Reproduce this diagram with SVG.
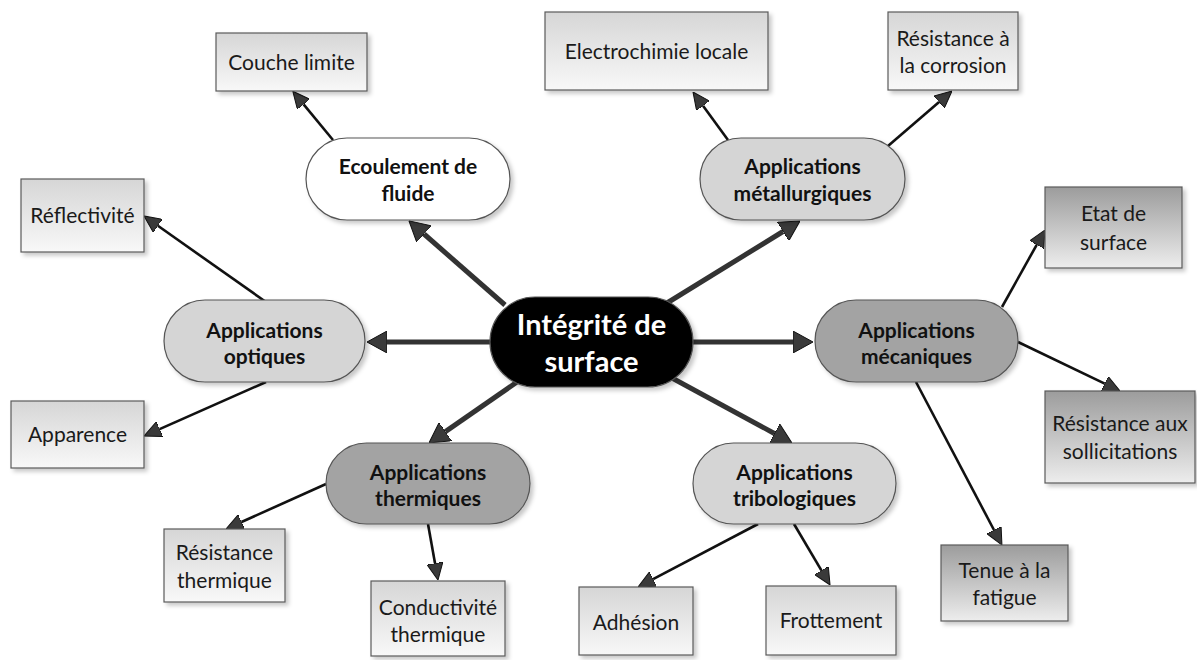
<svg xmlns="http://www.w3.org/2000/svg" width="1197" height="660" viewBox="0 0 1197 660">
<defs>
<style>
.box{stroke:#5a5a5a;stroke-width:1.2;filter:url(#sh)}
.lb{fill:url(#gl)}
.db{fill:url(#gd)}
.pill{stroke:#555;stroke-width:1.2;filter:url(#sh)}
.t{font-family:Lato,"Liberation Sans",sans-serif;font-size:21px;fill:#1a1a1a;text-anchor:middle}
.b{font-family:Lato,"Liberation Sans",sans-serif;font-size:21px;font-weight:bold;fill:#111;text-anchor:middle}
.c{font-family:Lato,"Liberation Sans",sans-serif;font-size:29px;font-weight:bold;fill:#fff;text-anchor:middle}
.thick{stroke:#333;stroke-width:5;fill:none;marker-end:url(#ah)}
.thin{stroke:#111;stroke-width:2.6;fill:none;marker-end:url(#at)}
</style>
<linearGradient id="gl" x1="0" y1="0" x2="0" y2="1"><stop offset="0" stop-color="#d6d6d6"/><stop offset="1" stop-color="#f8f8f8"/></linearGradient>
<linearGradient id="gd" x1="0" y1="0" x2="0" y2="1"><stop offset="0" stop-color="#9c9c9c"/><stop offset="1" stop-color="#ededed"/></linearGradient>
<filter id="sh" x="-10%" y="-10%" width="130%" height="140%"><feDropShadow dx="3" dy="3" stdDeviation="2" flood-color="#000" flood-opacity="0.22"/></filter>
<marker id="ah" viewBox="0 0 20 22" markerWidth="20" markerHeight="22" refX="0" refY="11" orient="auto" markerUnits="userSpaceOnUse"><path d="M0,0 L20,11 L0,22 z" fill="#3a3a3a" stroke="#111" stroke-width="1"/></marker>
<marker id="at" viewBox="0 0 17 16" markerWidth="17" markerHeight="16" refX="0" refY="8" orient="auto" markerUnits="userSpaceOnUse"><path d="M0,0 L17,8 L0,16 z" fill="#3a3a3a" stroke="#111" stroke-width="1"/></marker>
</defs>
<rect width="1197" height="660" fill="#fff"/>
<g id="connectors">
<line class="thick" x1="505" y1="305" x2="424" y2="234"/>
<line class="thick" x1="667" y1="303" x2="783" y2="231.5"/>
<line class="thick" x1="490" y1="342" x2="387" y2="342"/>
<line class="thick" x1="691" y1="342" x2="793" y2="342"/>
<line class="thick" x1="517" y1="382" x2="445.4" y2="431.6"/>
<line class="thick" x1="672" y1="378" x2="774.4" y2="433.5"/>
<line class="thin" x1="333" y1="140" x2="303.6" y2="104.3"/>
<line class="thin" x1="266" y1="302" x2="157.9" y2="225.8"/>
<line class="thin" x1="266" y1="382" x2="159.6" y2="429.1"/>
<line class="thin" x1="326" y1="484" x2="241.5" y2="522"/>
<line class="thin" x1="428" y1="524" x2="435" y2="563.3"/>
<line class="thin" x1="758" y1="524" x2="653.1" y2="579.1"/>
<line class="thin" x1="794" y1="524" x2="821.4" y2="570.4"/>
<line class="thin" x1="916" y1="382" x2="994" y2="530"/>
<line class="thin" x1="1018" y1="342" x2="1104.7" y2="383.6"/>
<line class="thin" x1="1002" y1="307" x2="1036.7" y2="244.8"/>
<line class="thin" x1="728" y1="140" x2="703" y2="105.7"/>
<line class="thin" x1="888" y1="146" x2="939.1" y2="102.1"/>
</g>
<g id="center"><rect class="pill" x="490" y="297" width="203" height="90" rx="45" fill="#000"/><text class="c" x="591.5" y="335">Intégrité de</text><text class="c" x="591.5" y="372">surface</text></g>
<g id="ecoulement"><rect class="pill" x="306" y="138" width="204" height="82" rx="41" fill="#fff"/><text class="b" x="408" y="173.5">Ecoulement de</text><text class="b" x="408" y="200.5">fluide</text></g>
<g id="metallurgiques"><rect class="pill" x="700" y="138" width="205" height="82" rx="41" fill="#d5d5d5"/><text class="b" x="802.5" y="173.5">Applications</text><text class="b" x="802.5" y="200.5">métallurgiques</text></g>
<g id="optiques"><rect class="pill" x="164" y="300" width="201" height="82" rx="41" fill="#d5d5d5"/><text class="b" x="264.5" y="337.5">Applications</text><text class="b" x="264.5" y="363.5">optiques</text></g>
<g id="mecaniques"><rect class="pill" x="815" y="300" width="203" height="82" rx="41" fill="#a3a3a3"/><text class="b" x="916.5" y="337.5">Applications</text><text class="b" x="916.5" y="363.5">mécaniques</text></g>
<g id="thermiques"><rect class="pill" x="326" y="443" width="204" height="81" rx="40.5" fill="#a3a3a3"/><text class="b" x="428" y="479.5">Applications</text><text class="b" x="428" y="505.5">thermiques</text></g>
<g id="tribologiques"><rect class="pill" x="693" y="443" width="203" height="81" rx="40.5" fill="#d5d5d5"/><text class="b" x="794.5" y="479.5">Applications</text><text class="b" x="794.5" y="505.5">tribologiques</text></g>
<g id="couche"><rect class="box lb" x="216" y="33" width="151" height="58"/><text class="t" x="291.5" y="69.5">Couche limite</text></g>
<g id="electrochimie"><rect class="box lb" x="545" y="12" width="223" height="78"/><text class="t" x="656.5" y="58.5">Electrochimie locale</text></g>
<g id="corrosion"><rect class="box lb" x="888" y="12" width="130" height="78"/><text class="t" x="953" y="45.5">Résistance à</text><text class="t" x="953" y="72.5">la corrosion</text></g>
<g id="reflectivite"><rect class="box lb" x="21" y="179" width="123" height="73"/><text class="t" x="82.5" y="222.5">Réflectivité</text></g>
<g id="apparence"><rect class="box lb" x="11" y="401" width="133" height="67"/><text class="t" x="77.5" y="441.5">Apparence</text></g>
<g id="resthermique"><rect class="box lb" x="164" y="529" width="121" height="73"/><text class="t" x="224.5" y="559.5">Résistance</text><text class="t" x="224.5" y="587.5">thermique</text></g>
<g id="conductivite"><rect class="box lb" x="371" y="581" width="134" height="75"/><text class="t" x="438" y="614.5">Conductivité</text><text class="t" x="438" y="641.5">thermique</text></g>
<g id="adhesion"><rect class="box lb" x="579" y="587" width="114" height="68"/><text class="t" x="636" y="629.5">Adhésion</text></g>
<g id="frottement"><rect class="box lb" x="766" y="586" width="130" height="69"/><text class="t" x="831" y="627.5">Frottement</text></g>
<g id="etat"><rect class="box db" x="1045" y="187" width="137" height="81"/><text class="t" x="1113.5" y="220.5">Etat de</text><text class="t" x="1113.5" y="249.5">surface</text></g>
<g id="sollicitations"><rect class="box db" x="1045" y="391" width="150" height="92"/><text class="t" x="1120" y="430.5">Résistance aux</text><text class="t" x="1120" y="458.5">sollicitations</text></g>
<g id="fatigue"><rect class="box db" x="941" y="545" width="127" height="76"/><text class="t" x="1004.5" y="577.5">Tenue à la</text><text class="t" x="1004.5" y="604.5">fatigue</text></g>
</svg>
